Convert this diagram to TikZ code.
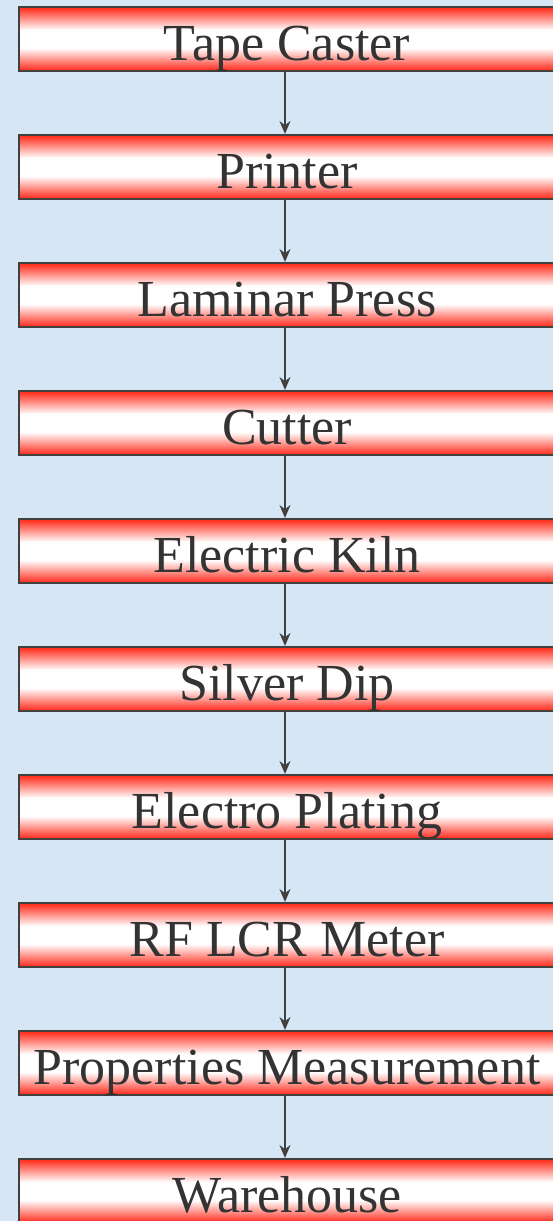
\documentclass[tikz,border=0pt]{standalone}
\usepackage{fontspec}
\setmainfont{Liberation Serif}
\usepackage{xcolor}
\usetikzlibrary{arrows.meta, positioning}

\definecolor{skyback}{RGB}{214,230,245}
\definecolor{boxred}{RGB}{255,50,35}
\definecolor{boxedge}{RGB}{64,64,64}
\definecolor{textgray}{RGB}{51,51,51}

% red bar with a white middle
\pgfdeclareverticalshading{redbar}{100bp}{
    color(0bp)=(boxred); color(26bp)=(boxred);
    color(43bp)=(white); color(57bp)=(white);
    color(74bp)=(boxred); color(100bp)=(boxred)}

\begin{document}
\begin{tikzpicture}[
    x=1pt, y=1pt,
    node distance=62pt,
    stage/.style={rectangle, draw=boxedge, line width=2pt, shading=redbar, minimum width=536pt, text height=53pt, text depth=11pt, inner sep=0pt, text=textgray, font=\fontsize{52}{60}\selectfont, text centered},
    arrow/.style={draw=boxedge, line width=1.5pt, -{Stealth[length=13pt, width=11pt]}}
]
    % Background
    \fill[skyback] (0,0) rectangle (553,-1221);
    \useasboundingbox (0,0) rectangle (553,-1221);

    % Stages
    \node[stage] (caster) at (287,-39) {Tape Caster};
    \node[stage, below=of caster] (printer) {Printer};
    \node[stage, below=of printer] (press) {Laminar Press};
    \node[stage, below=of press] (cutter) {Cutter};
    \node[stage, below=of cutter] (kiln) {Electric Kiln};
    \node[stage, below=of kiln] (dip) {Silver Dip};
    \node[stage, below=of dip] (plating) {Electro Plating};
    \node[stage, below=of plating] (meter) {RF LCR Meter};
    \node[stage, below=of meter] (measure) {Properties Measurement};
    \node[stage, below=of measure] (warehouse) {Warehouse};

    % Arrows
    \draw[arrow] ([xshift=-2pt]caster.south) -- ([xshift=-2pt]printer.north);
    \draw[arrow] ([xshift=-2pt]printer.south) -- ([xshift=-2pt]press.north);
    \draw[arrow] ([xshift=-2pt]press.south) -- ([xshift=-2pt]cutter.north);
    \draw[arrow] ([xshift=-2pt]cutter.south) -- ([xshift=-2pt]kiln.north);
    \draw[arrow] ([xshift=-2pt]kiln.south) -- ([xshift=-2pt]dip.north);
    \draw[arrow] ([xshift=-2pt]dip.south) -- ([xshift=-2pt]plating.north);
    \draw[arrow] ([xshift=-2pt]plating.south) -- ([xshift=-2pt]meter.north);
    \draw[arrow] ([xshift=-2pt]meter.south) -- ([xshift=-2pt]measure.north);
    \draw[arrow] ([xshift=-2pt]measure.south) -- ([xshift=-2pt]warehouse.north);

\end{tikzpicture}
\end{document}
